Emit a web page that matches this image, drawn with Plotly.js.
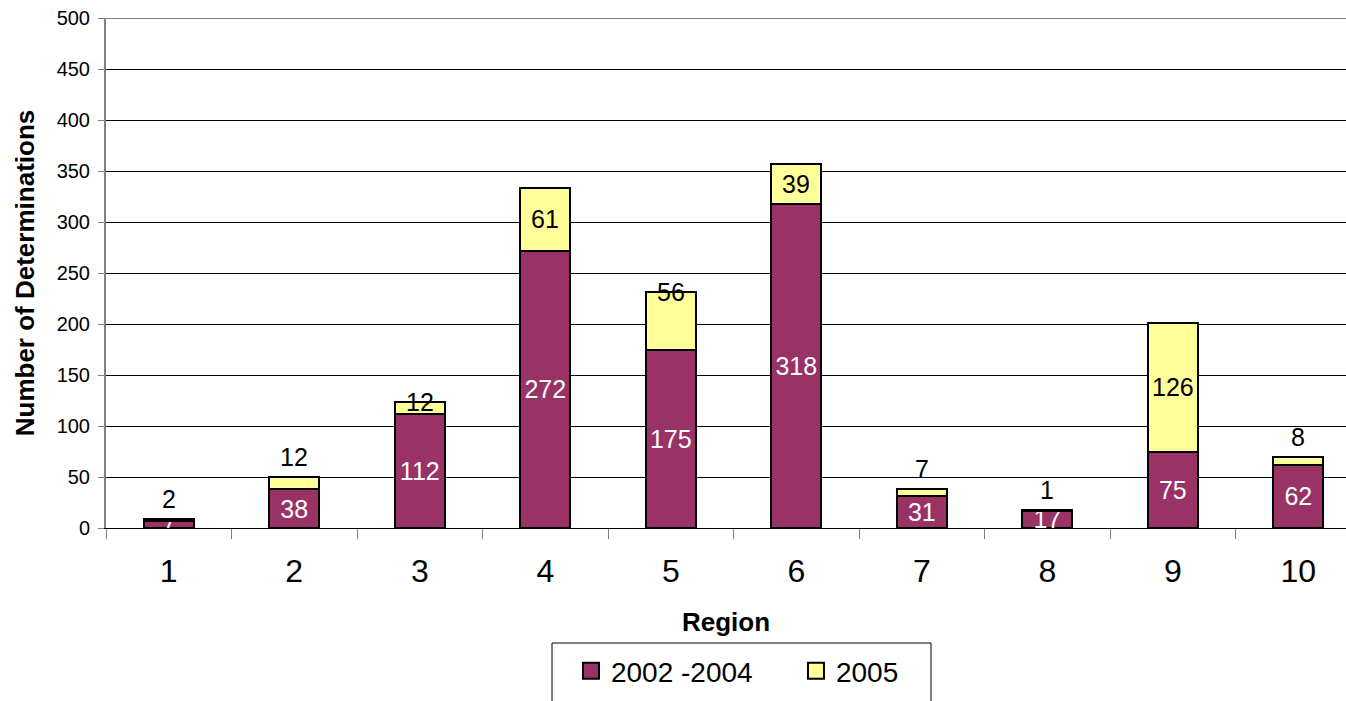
<!DOCTYPE html>
<html>
<head>
<meta charset="utf-8">
<script src="https://cdn.plot.ly/plotly-3.0.1.min.js"></script>
<style>html,body{margin:0;padding:0;background:#fff;}#chart{width:1346px;height:701px;}</style>
</head>
<body>
<div id="chart"></div>
<script>
const regions = ['1','2','3','4','5','6','7','8','9','10'];
const series2002_2004 = [7, 38, 112, 272, 175, 318, 31, 17, 75, 62];
const series2005 = [2, 12, 12, 61, 56, 39, 7, 1, 126, 8];
// where the 2005 label sits: above the stack, on the stack's top edge, or in the middle of its segment
const labelPlace2005 = ['above','above','edge','middle','edge','middle','above','above','middle','above'];
const yTicks = [0, 50, 100, 150, 200, 250, 300, 350, 400, 450, 500];
const seriesNames = ['2002 -2004', '2005'];
const seriesColors = ['#993366', '#FFFF99'];

const FONT = 'Liberation Sans, Arial, sans-serif';

const traces = [
  {
    type: 'bar', name: seriesNames[0], x: regions, y: series2002_2004,
    width: 0.4, showlegend: false,
    marker: {color: seriesColors[0], line: {color: '#000000', width: 2}},
    text: series2002_2004.map(String), textposition: 'inside', insidetextanchor: 'middle',
    constraintext: 'none', textangle: 0,
    textfont: {family: FONT, size: 25, color: '#ffffff'},
    hoverinfo: 'none', cliponaxis: false
  },
  {
    type: 'bar', name: seriesNames[1], x: regions, y: series2005,
    width: 0.4, showlegend: false,
    marker: {color: seriesColors[1], line: {color: '#000000', width: 2}},
    hoverinfo: 'none', cliponaxis: false
  },
  // legend entries (square symbols)
  {
    type: 'scatter', mode: 'markers', name: seriesNames[0], x: [null], y: [null],
    marker: {symbol: 'square', size: 16, color: seriesColors[0], line: {color: '#000000', width: 2}},
    hoverinfo: 'none'
  },
  {
    type: 'scatter', mode: 'markers', name: seriesNames[1], x: [null], y: [null],
    marker: {symbol: 'square', size: 16, color: seriesColors[1], line: {color: '#000000', width: 2}},
    hoverinfo: 'none'
  }
];

const annotations = regions.map((r, i) => {
  const base = series2002_2004[i];
  const v = series2005[i];
  const place = labelPlace2005[i];
  let y = base + v, yanchor = 'middle', yshift = 0;
  if (place === 'middle') { y = base + v / 2; }
  else if (place === 'above') { yanchor = 'bottom'; yshift = 4; }
  return {
    xref: 'x', yref: 'y', x: i, y: y, text: String(v), showarrow: false,
    yanchor: yanchor, xanchor: 'center', yshift: yshift,
    font: {family: FONT, size: 25, color: '#000000'}
  };
});

const layout = {
  width: 1346, height: 701,
  margin: {l: 106, r: 0, t: 18, b: 173},
  paper_bgcolor: '#ffffff', plot_bgcolor: '#ffffff',
  barmode: 'stack',
  font: {family: FONT, color: '#000000'},
  showlegend: true,
  legend: {
    orientation: 'h', xref: 'container', yref: 'container',
    x: 0.4242, xanchor: 'left', y: 0.0785, yanchor: 'top',
    borderwidth: 0, bgcolor: 'rgba(0,0,0,0)',
    font: {family: FONT, size: 28, color: '#000000'},
    traceorder: 'normal', itemwidth: 30, entrywidth: 180, itemsizing: 'trace'
  },
  xaxis: {
    type: 'category', range: [-0.5, 9.38],
    tickson: 'boundaries', ticks: 'outside', ticklen: 10, tickcolor: '#808080', tickwidth: 1,
    showline: true, linecolor: '#000000', linewidth: 1,
    showgrid: false, zeroline: false,
    tickfont: {family: FONT, size: 32, color: '#000000'},
    ticklabelstandoff: 15,
    title: {text: '<b>Region</b>', font: {family: FONT, size: 26, color: '#000000'}, standoff: 24},
    automargin: false
  },
  yaxis: {
    range: [0, 500], tickvals: yTicks, ticktext: yTicks.map(String),
    ticks: 'outside', ticklen: 6, tickcolor: '#808080', tickwidth: 1,
    showline: true, linecolor: '#808080', linewidth: 2,
    showgrid: true, gridcolor: '#000000', gridwidth: 1,
    zeroline: false,
    tickfont: {family: FONT, size: 20, color: '#000000'},
    ticklabelstandoff: 4,
    title: {text: '<b>Number of Determinations</b>', font: {family: FONT, size: 26, color: '#000000'}, standoff: 15},
    automargin: false
  },
  annotations: annotations,
  shapes: [
    {type: 'line', xref: 'paper', yref: 'y', x0: 0, x1: 1, y0: 500, y1: 500, line: {color: '#808080', width: 2}, layer: 'above'},
    {type: 'rect', xref: 'paper', yref: 'paper', x0: (552 - 106) / 1240, x1: (931 - 106) / 1240,
     y0: -0.2255, y1: -0.36, line: {color: '#000000', width: 1}, fillcolor: 'rgba(0,0,0,0)', layer: 'above'}
  ]
};

Plotly.newPlot('chart', traces, layout, {displayModeBar: false, staticPlot: true});
</script>
</body>
</html>
